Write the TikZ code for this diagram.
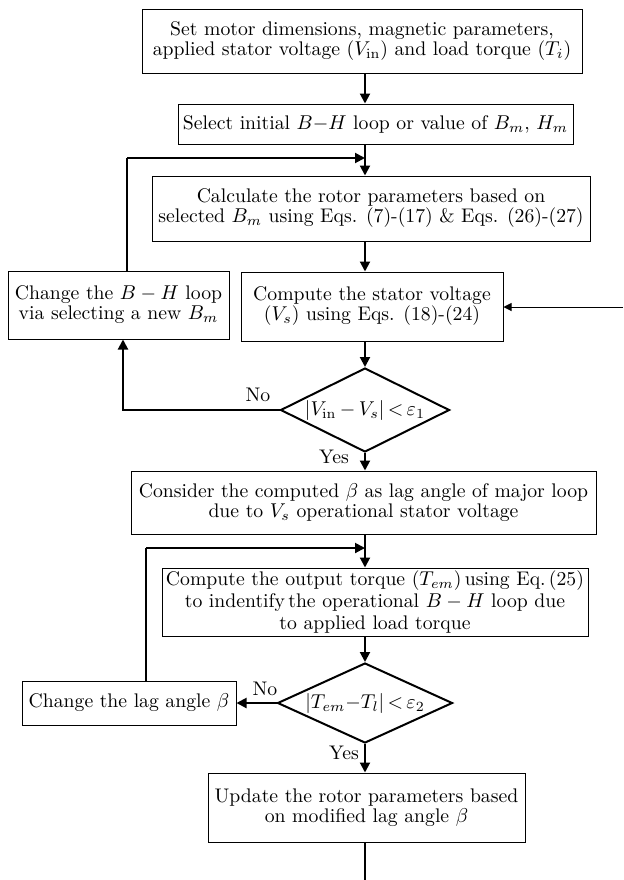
\documentclass[tikz,border=0pt]{standalone}
\usetikzlibrary{shapes.geometric,arrows.meta}
\newcommand\figfs{\fontsize{9.85}{10}\selectfont}
\newcommand\figfsloose{\fontsize{9.85}{10.8}\selectfont}
\begin{document}
\begin{tikzpicture}[x=0.5pt,y=-0.5pt,
  box/.style={draw,line width=0.5pt,align=center,inner sep=0pt,font=\figfs},
  dia/.style={draw,diamond,aspect=2,line width=1pt,inner sep=0pt,font=\figfs},
  arr/.style={line width=1pt,-{Triangle[length=5pt,width=5pt]}},
  smallarr/.style={line width=0.5pt,-{Triangle[length=4pt,width=4pt]}},
  thinline/.style={line width=0.7pt},
  lbl/.style={font=\figfs,inner sep=0pt}]
\useasboundingbox (0,0) rectangle (623,880);
% nodes
\node[box,minimum width=220pt,minimum height=32pt] (b1) at (362,41)
  {Set motor dimensions, magnetic parameters,\\ applied stator voltage ($V_{\mathrm{in}}$) and load torque ($T_i$)};
\node[box,minimum width=197.5pt,minimum height=20pt] (b2) at (375.5,124)
  {Select initial $B{-}H$ loop or value of $B_m$, $H_m$};
\node[box,minimum width=219pt,minimum height=32.5pt] (b3) at (371,208.5)
  {Calculate the rotor parameters based on\\ selected $B_m$ using Eqs. (7)-(17) \& Eqs. (26)-(27)};
\node[box,minimum width=110.5pt,minimum height=34pt] (c1) at (118.5,305)
  {Change the $B-H$ loop\\ via selecting a new $B_m$};
\node[box,minimum width=131pt,minimum height=34.5pt] (b4) at (372,306.5)
  {Compute the stator voltage\\ ($V_s$) using Eqs. (18)-(24)};
\node[dia,minimum width=84.5pt,minimum height=42pt] (d1) at (365,410)
  {$|V_{\mathrm{in}}\,{-}\,V_s|\,{<}\,\varepsilon_1$};
\node[box,minimum width=232.5pt,minimum height=31.5pt] (b5) at (363.5,502.5)
  {Consider the computed $\beta$ as lag angle of major loop\\ due to $V_s$ operational stator voltage};
\node[box,minimum width=213pt,minimum height=34pt,font=\figfsloose] (b6) at (375,602)
  {Compute the output torque ($T_{em}$)\,using Eq.\,(25)\\ to indentify\,the operational $B-H$ loop due\\ to applied load torque};
\node[dia,minimum width=87.5pt,minimum height=40pt] (d2) at (365,703)
  {$|T_{em}{-}T_l|\,{<}\,\varepsilon_2$};
\node[box,minimum width=107pt,minimum height=22pt] (c2) at (129,703)
  {Change the lag angle $\beta$};
\node[box,minimum width=158.5pt,minimum height=34.5pt] (b7) at (366.5,807.5)
  {Update the rotor parameters based\\ on modified lag angle $\beta$};
% labels
\node[lbl] (no1) at (258,395) {No};
\node[lbl] (no2) at (265,689) {No};
\node[lbl] (yes1) at (334,457) {Yes};
\node[lbl] (yes2) at (344,753) {Yes};
% coordinates
\coordinate (ax) at (365,0);
\coordinate (j1) at (365,158);
\coordinate (fb1) at (127,158);
\coordinate (nx1) at (123,410);
\coordinate (rin) at (623,307);
\coordinate (j2) at (365,548);
\coordinate (fb2) at (146,548);
\coordinate (end) at (365,880);
% connectors
\draw[arr] (b1.south -| ax) -- (b2.north -| ax);
\draw[arr] (b2.south -| ax) -- (b3.north -| ax);
\draw[thinline] (c1.north -| fb1) -- (fb1);
\draw[arr] (fb1) -- (j1);
\draw[arr] (b3.south -| ax) -- (b4.north -| ax);
\draw[smallarr] (rin) -- (b4.east |- rin);
\draw[arr] (b4.south -| ax) -- (d1.north);
\draw[arr] (d1.west) -| (c1.south -| nx1);
\draw[arr] (d1.south) -- (b5.north -| ax);
\draw[arr] (b5.south -| ax) -- (b6.north -| ax);
\draw[thinline] (c2.north -| fb2) -- (fb2);
\draw[arr] (fb2) -- (j2);
\draw[arr] (b6.south -| ax) -- (d2.north);
\draw[arr] (d2.west) -- (c2.east);
\draw[arr] (d2.south) -- (b7.north -| ax);
\draw[thinline] (b7.south -| ax) -- (end);
\end{tikzpicture}
\end{document}
